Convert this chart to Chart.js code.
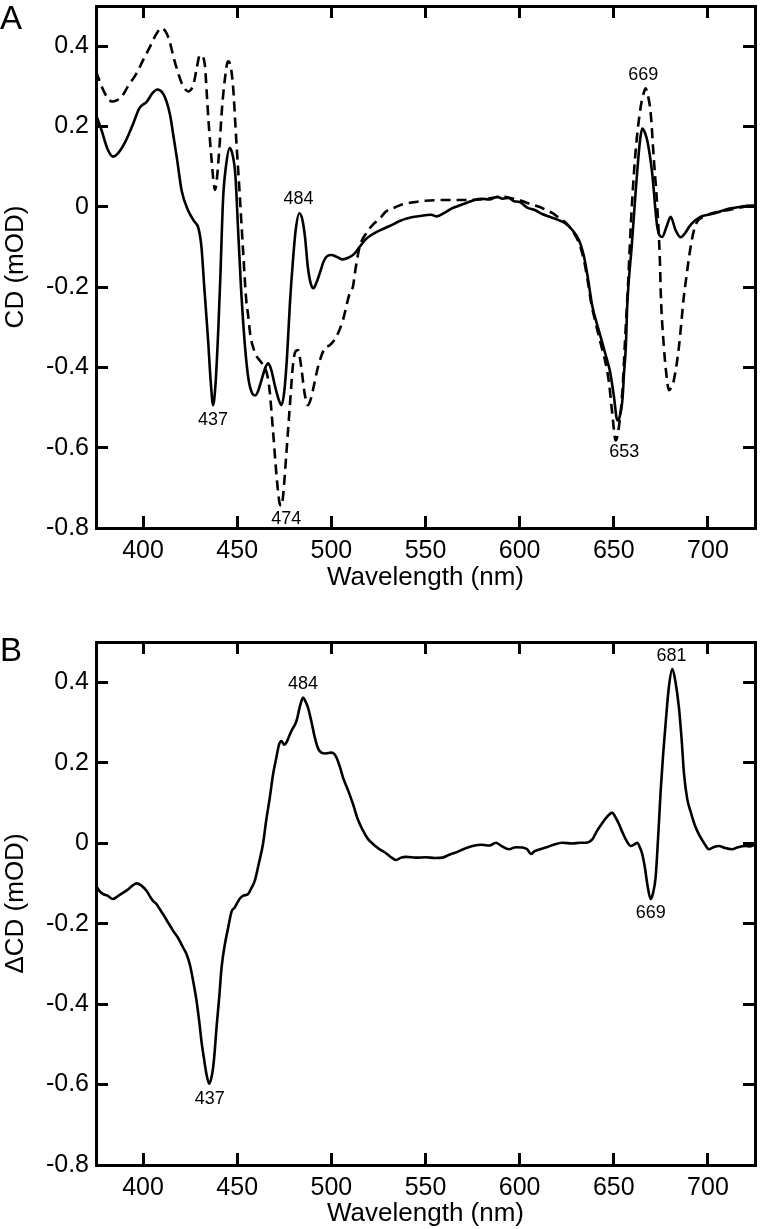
<!DOCTYPE html>
<html lang="en">
<head>
<meta charset="UTF-8">
<title>CD spectra</title>
<script src="https://cdn.jsdelivr.net/npm/chart.js"></script>
<style>
  body { margin: 0; background: #fff; width: 760px; height: 1229px; position: relative; overflow: hidden;
         font-family: "Liberation Sans", Arial, sans-serif; }
  .panel { position: absolute; left: 0; width: 760px; }
  #panelA { top: 0; height: 600px; }
  #panelB { top: 600px; height: 629px; }
  .letter { position: absolute; left: 0; font-size: 33px; line-height: 1; color: #000; }
</style>
</head>
<body>
<div class="panel" id="panelA"><canvas id="chartA"></canvas></div>
<div class="panel" id="panelB"><canvas id="chartB"></canvas></div>
<div class="letter" style="top:1px">A</div>
<div class="letter" style="top:633px">B</div>

<script>
// ---- data ----
const xTicks = [400, 450, 500, 550, 600, 650, 700];
const yTicks = [-0.8, -0.6, -0.4, -0.2, 0, 0.2, 0.4];
const yTickLabels = ['-0.8', '-0.6', '-0.4', '-0.2', '0', '0.2', '0.4'];

// panel A, solid trace
const nmSolidA = [375, 378, 381, 384, 387, 391, 395, 398, 402, 405, 407.5, 410.5, 412.5, 414.5, 416, 418, 420.5, 424, 427, 429.5,
  431, 432.5, 434.5, 436, 437.2, 438.5, 440, 441, 442.5, 444, 446, 447.5, 449, 450.5, 452, 454, 456, 458, 459.5, 461,
  463, 465, 466.5, 468, 470, 472, 473.5, 475, 476.5, 478, 479.5, 481, 483, 484.5, 486, 487.5, 489, 490.5, 492, 494,
  496, 498, 500, 503, 506, 509, 512, 515, 518.5, 522, 526, 531, 536, 540, 547, 553, 556, 560, 564, 568,
  572, 576, 580, 584, 588, 591, 594, 597, 600, 604, 608, 612, 616, 620, 624, 628, 631.5, 634, 636, 638.5,
  642, 645.5, 648, 650, 651.9, 653, 654.6, 655.5, 656.4, 657.2, 659.5, 661.5, 663, 664.2, 665.2, 666.5, 668, 670.4, 673.1, 675.7,
  678, 680.2, 682.8, 685.5, 688, 690, 693, 696, 700, 705, 710, 715, 720, 725];
const cdSolidA = [0.229, 0.19, 0.145, 0.125, 0.135, 0.166, 0.21, 0.245, 0.262, 0.283, 0.292, 0.283, 0.262, 0.225, 0.18, 0.12, 0.04, -0.01, -0.035, -0.055,
  -0.1, -0.2, -0.33, -0.44, -0.494, -0.44, -0.3, -0.18, 0.02, 0.1, 0.146, 0.13, 0.08, -0.06, -0.2, -0.34, -0.43, -0.465, -0.47, -0.46,
  -0.43, -0.4, -0.39, -0.405, -0.445, -0.48, -0.494, -0.46, -0.37, -0.24, -0.14, -0.06, -0.016, -0.03, -0.075, -0.15, -0.19, -0.203, -0.19, -0.163,
  -0.135, -0.122, -0.12, -0.125, -0.131, -0.127, -0.118, -0.1, -0.08, -0.068, -0.058, -0.048, -0.036, -0.029, -0.023, -0.02, -0.024, -0.015, -0.004, 0.003,
  0.01, 0.017, 0.02, 0.018, 0.025, 0.02, 0.022, 0.014, 0.012, -0.002, -0.008, -0.018, -0.025, -0.032, -0.04, -0.058, -0.083, -0.12, -0.17, -0.245,
  -0.307, -0.366, -0.41, -0.47, -0.532, -0.525, -0.48, -0.41, -0.349, -0.24, -0.1, 0.03, 0.12, 0.175, 0.195, 0.185, 0.16, 0.083, -0.05, -0.075,
  -0.05, -0.025, -0.058, -0.076, -0.065, -0.05, -0.035, -0.025, -0.02, -0.014, -0.006, -0.002, 0.002, 0.003];

// panel A, dashed trace
const nmDashA = [375, 378, 381, 383.5, 386, 388.6, 392, 396.6, 400, 403.7, 407, 409.9, 412.5, 414.5, 416.1, 418.5, 420.5, 422.5, 424, 425.5,
  426.7, 428.5, 430.2, 431.5, 432.9, 434, 434.6, 436.4, 437.5, 438.2, 439, 440.7, 442, 443.4, 445.1, 446.5, 447.8, 449.5, 451.3, 453.1,
  454.8, 455.7, 457, 458.4, 460, 461.9, 463.5, 464.6, 466, 467.2, 469, 470.8, 472.6, 473.5, 474.3, 476.1, 477.9, 479.7, 481, 482.3,
  484, 485.8, 487.6, 489, 490.2, 492.9, 496.4, 499.1, 502.6, 506.1, 509.7, 511.4, 513, 515, 518.5, 522, 525.6, 529, 532.6, 538,
  543.2, 550, 560.9, 570, 578.6, 585, 590.9, 595, 599.7, 605, 610.4, 614, 617.5, 621, 625, 628, 631.5, 634, 636, 638,
  640.4, 643, 645.7, 647.5, 649.2, 651, 652.7, 654.6, 656, 657.5, 659, 660.5, 662, 664.3, 666, 666.9, 668, 669.6, 671.3, 673.1,
  674.6, 674.9, 676.6, 678, 679.3, 680.5, 681.9, 684.6, 687.2, 688.1, 690.8, 692.5, 694.3, 698, 702.3, 707, 711.2, 716, 720, 725];
const cdDashA = [0.337, 0.3, 0.272, 0.262, 0.265, 0.274, 0.3, 0.333, 0.365, 0.399, 0.43, 0.445, 0.432, 0.405, 0.374, 0.335, 0.308, 0.292, 0.287, 0.292,
  0.303, 0.345, 0.378, 0.375, 0.349, 0.27, 0.224, 0.116, 0.06, 0.042, 0.06, 0.158, 0.25, 0.316, 0.362, 0.35, 0.299, 0.166, 0.033, -0.108,
  -0.233, -0.266, -0.32, -0.349, -0.37, -0.382, -0.392, -0.399, -0.42, -0.457, -0.557, -0.665, -0.74, -0.745, -0.723, -0.615, -0.499, -0.39, -0.36, -0.357,
  -0.399, -0.465, -0.494, -0.48, -0.457, -0.399, -0.353, -0.345, -0.324, -0.283, -0.216, -0.2, -0.15, -0.1, -0.066, -0.045, -0.03, -0.012, -0.004, 0.006,
  0.011, 0.015, 0.017, 0.017, 0.018, 0.022, 0.025, 0.022, 0.017, 0.008, 0, -0.008, -0.016, -0.028, -0.042, -0.06, -0.09, -0.13, -0.18, -0.24,
  -0.29, -0.34, -0.39, -0.44, -0.515, -0.582, -0.549, -0.457, -0.33, -0.2, -0.05, 0.07, 0.16, 0.249, 0.285, 0.295, 0.28, 0.233, 0.116, 0,
  -0.15, -0.208, -0.349, -0.42, -0.457, -0.45, -0.432, -0.349, -0.224, -0.191, -0.1, -0.06, -0.037, -0.024, -0.016, -0.011, -0.008, -0.003, 0.001, 0.004];

// panel B, difference spectrum
const nmB = [375, 377, 379, 381, 384, 386.5, 389.5, 392, 394.5, 396.6, 399, 401.9, 404, 405.4, 407.2, 409, 410.7, 413, 416, 418.5,
  421.3, 423, 424.8, 426.5, 428.4, 430, 431, 432.5, 433.7, 435.1, 436.2, 437.2, 438, 439, 440.5, 441.7, 443.5, 445.2, 447, 448.7,
  451.3, 453.5, 455.7, 457.5, 459.3, 461.5, 463.7, 465.5, 467.3, 469, 470.8, 472.2, 473.5, 475, 476.1, 477.5, 478.8, 481.5, 483.3, 485,
  486.3, 487.6, 489.5, 491.2, 493, 494.7, 497, 500, 501.5, 502.7, 504.5, 506.2, 509, 511.5, 514, 516.8, 519.5, 522.1, 525.6, 529,
  532, 534.4, 537, 539.7, 545, 550, 555, 559.1, 562, 566.2, 570, 575, 580, 584, 587.4, 590, 594.5, 598, 601.5, 604,
  605.9, 608, 613.9, 618, 622.7, 628, 632, 635.1, 638.7, 641, 644, 646.5, 649.2, 650.8, 652.8, 654.5, 656.3, 659, 661, 662.5,
  663.8, 665.1, 666.5, 667.8, 669.6, 670.8, 672.2, 673.5, 674.9, 676.2, 677.5, 679.3, 681.1, 682.8, 684.6, 686, 687.3, 689, 690.7, 693,
  695.2, 698, 700.5, 703, 705.8, 709, 712.8, 716, 719.9, 722.5, 725];
const dcdB = [-0.106, -0.12, -0.127, -0.13, -0.139, -0.132, -0.123, -0.115, -0.105, -0.1, -0.105, -0.119, -0.135, -0.144, -0.152, -0.165, -0.177, -0.195, -0.218, -0.235,
  -0.26, -0.275, -0.301, -0.34, -0.392, -0.45, -0.492, -0.54, -0.575, -0.598, -0.585, -0.558, -0.52, -0.459, -0.38, -0.309, -0.25, -0.21, -0.17, -0.16,
  -0.138, -0.13, -0.127, -0.112, -0.094, -0.05, -0.002, 0.06, 0.113, 0.17, 0.213, 0.245, 0.254, 0.245, 0.25, 0.265, 0.279, 0.304, 0.34, 0.362,
  0.352, 0.337, 0.3, 0.263, 0.235, 0.225, 0.223, 0.225, 0.222, 0.213, 0.19, 0.163, 0.13, 0.097, 0.06, 0.031, 0.01, -0.002, -0.015, -0.025,
  -0.036, -0.042, -0.036, -0.034, -0.036, -0.035, -0.037, -0.036, -0.03, -0.023, -0.015, -0.007, -0.004, -0.006, 0.001, -0.006, -0.015, -0.01, -0.011, -0.015,
  -0.027, -0.02, -0.011, -0.004, 0.001, -0.001, 0.001, 0.001, 0.01, 0.03, 0.051, 0.066, 0.076, 0.065, 0.047, 0.028, 0.01, -0.007, -0.003, 0.001,
  -0.01, -0.027, -0.06, -0.102, -0.139, -0.125, -0.086, 0.01, 0.13, 0.22, 0.296, 0.39, 0.433, 0.4, 0.337, 0.26, 0.172, 0.11, 0.08, 0.045,
  0.022, 0, -0.015, -0.01, -0.007, -0.012, -0.015, -0.01, -0.007, -0.008, -0.004];

// peak annotations (text, wavelength, value at text centre)
const peakTextA = ['484', '437', '474', '653', '669'];
const peakNmA = [482.5, 437.2, 476.1, 655.5, 665.7];
const peakCdA = [0.02, -0.53, -0.777, -0.611, 0.327];
const peakTextB = ['484', '681', '669', '437'];
const peakNmB = [484.9, 680.7, 669.6, 435.4];
const peakCdB = [0.396, 0.466, -0.173, -0.637];

// ---- drawing ----
const FONT = '"Liberation Sans", Arial, Helvetica, sans-serif';
Chart.defaults.font.family = FONT;
Chart.defaults.color = '#000';

const peakLabels = {
    id: 'peakLabels',
    afterDatasetsDraw(chart, args, opts) {
        const { ctx, scales } = chart;
        ctx.save();
        ctx.font = '18px ' + FONT;
        ctx.fillStyle = '#000';
        ctx.textAlign = 'center';
        ctx.textBaseline = 'middle';
        opts.text.forEach((t, i) => {
            ctx.fillText(t, scales.x.getPixelForValue(opts.nm[i]), scales.y.getPixelForValue(opts.val[i]));
        });
        ctx.restore();
    }
};

function toPoints(xs, ys) {
    return xs.map((x, i) => ({ x: x, y: ys[i] }));
}

// box axis with inward tick marks
function frame(extra) {
    return Object.assign({
        type: 'linear',
        border: { display: true, color: '#000', width: 3 },
        grid: { display: true, drawOnChartArea: false, drawTicks: true, tickLength: -12, tickWidth: 3, color: '#000' }
    }, extra);
}

function noPad(s) {
    s.paddingTop = 0; s.paddingBottom = 0; s.paddingLeft = 0; s.paddingRight = 0;
}

function makeChart(canvasId, datasets, yTitle, padTop, xHeight, xTitleGap, peaks) {
    const setX = s => { s.ticks = xTicks.map(v => ({ value: v })); };
    const setY = s => { s.ticks = yTicks.map(v => ({ value: v })); };
    return new Chart(document.getElementById(canvasId), {
        type: 'line',
        data: { datasets: datasets },
        options: {
            responsive: true,
            maintainAspectRatio: false,
            animation: false,
            layout: { padding: { top: padTop, right: 5, left: 0, bottom: 0 } },
            plugins: { legend: { display: false }, tooltip: { enabled: false }, peakLabels: peaks },
            scales: {
                x: frame({
                    position: 'bottom', min: 375, max: 725, afterBuildTicks: setX,
                    ticks: { font: { size: 25 }, padding: 20, maxRotation: 0, callback: v => String(v) },
                    title: { display: true, text: 'Wavelength (nm)', font: { size: 26 }, padding: { top: 0, bottom: xTitleGap } },
                    afterFit: s => { s.height = xHeight; noPad(s); }
                }),
                xTop: frame({
                    position: 'top', min: 375, max: 725, afterBuildTicks: setX,
                    ticks: { display: false },
                    afterFit: s => { s.height = 0; noPad(s); }
                }),
                y: frame({
                    position: 'left', min: -0.8, max: 0.5, afterBuildTicks: setY,
                    ticks: { font: { size: 25 }, padding: 19, callback: (v, i) => yTickLabels[i] },
                    title: { display: true, text: yTitle, font: { size: 26 }, padding: { top: 0, bottom: 0 } },
                    afterFit: s => { s.width = 96; noPad(s); }
                }),
                yRight: frame({
                    position: 'right', min: -0.8, max: 0.5, afterBuildTicks: setY,
                    ticks: { display: false },
                    afterFit: s => { s.width = 0; noPad(s); }
                })
            }
        },
        plugins: [peakLabels]
    });
}

const lineStyle = { borderColor: '#000', borderWidth: 2.6, pointRadius: 0, fill: false, cubicInterpolationMode: 'monotone' };

makeChart('chartA', [
    Object.assign({ label: 'dashed', data: toPoints(nmDashA, cdDashA), borderDash: [10, 6] }, lineStyle),
    Object.assign({ label: 'solid', data: toPoints(nmSolidA, cdSolidA) }, lineStyle)
], 'CD (mOD)', 6, 72, 7, { text: peakTextA, nm: peakNmA, val: peakCdA });

makeChart('chartB', [
    Object.assign({ label: 'difference', data: toPoints(nmB, dcdB) }, lineStyle)
], '\u0394CD (mOD)', 42, 64, 0, { text: peakTextB, nm: peakNmB, val: peakCdB });
</script>
</body>
</html>
